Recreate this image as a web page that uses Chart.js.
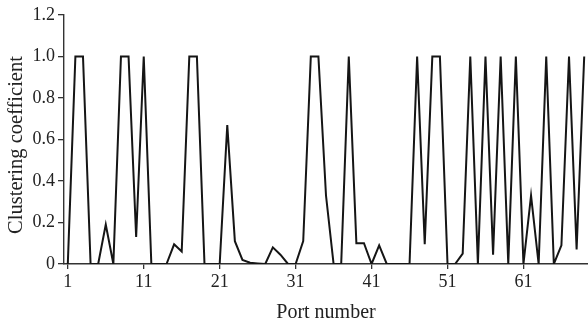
<!DOCTYPE html>
<html><head><meta charset="utf-8">
<script src="https://cdn.jsdelivr.net/npm/chart.js@4"></script>
<style>html,body{margin:0;padding:0;background:#fff}#wrap{width:588px;height:325px}</style>
</head><body><div id="wrap"><canvas id="c" width="588" height="325"></canvas></div>
<script>
const ports = [1,2,3,4,5,6,7,8,9,10,11,12,13,14,15,16,17,18,19,20,21,22,23,24,25,26,27,28,29,30,31,32,33,34,35,36,37,38,39,40,41,42,43,44,45,46,47,48,49,50,51,52,53,54,55,56,57,58,59,60,61,62,63,64,65,66,67,68,69];
const clustering = [0,1,1,0,0,0.19,0,1,1,0.13,1,0,0,0,0.095,0.06,1,1,0,0,0,0.67,0.11,0.02,0.006,0.003,0,0.08,0.045,0,0,0.11,1,1,0.33,0,0,1,0.1,0.1,0,0.09,0,0,0,0,1,0.095,1,1,0,0,0.05,1,0,1,0.045,1,0,1,0,0.33,0,1,0,0.09,1,0.07,1];
const xTickValues = [1,11,21,31,41,51,61];
const yTickValues = [0,0.2,0.4,0.6,0.8,1.0,1.2];
const yTickLabels = ['0','0.2','0.4','0.6','0.8','1.0','1.2'];
const xTitle = 'Port number';
const yTitle = 'Clustering coefficient';

const FONT = 'Liberation Serif, Times New Roman, serif';

const yTitlePlugin = {
  id: 'yTitle',
  afterDraw(chart) {
    const c = chart.ctx;
    c.save();
    c.translate(17, 145);
    c.rotate(-Math.PI / 2);
    c.font = '20.5px ' + FONT;
    c.fillStyle = '#222';
    c.textAlign = 'center';
    c.textBaseline = 'middle';
    c.fillText(yTitle, 0, 0);
    c.restore();
  }
};

const ctx = document.getElementById('c').getContext('2d');
new Chart(ctx, {
  type: 'line',
  data: {
    datasets: [{
      data: ports.map((p, i) => ({x: p, y: clustering[i]})),
      borderColor: '#151515',
      borderWidth: 2,
      pointRadius: 0,
      tension: 0,
      fill: false
    }]
  },
  options: {
    responsive: false,
    animation: false,
    plugins: {legend: {display: false}, tooltip: {enabled: false}},
    layout: {padding: {top: 15, right: 0, left: 0, bottom: 0}},
    scales: {
      x: {
        type: 'linear', min: 0.5, max: 69.5,
        afterBuildTicks: s => { s.ticks = xTickValues.map(v => ({value: v})); },
        afterFit: s => { s.height = 61; },
        ticks: {autoSkip: false, maxRotation: 0, padding: 2, color: '#222',
                font: {family: FONT, size: 18}, callback: v => String(v)},
        grid: {drawOnChartArea: false, drawTicks: true, tickLength: 5, color: '#333', lineWidth: 1.3},
        border: {display: true, color: '#333', width: 1.4},
        title: {display: true, text: xTitle, color: '#222', font: {family: FONT, size: 20},
                padding: {top: 0, bottom: 0}}
      },
      y: {
        min: 0, max: 1.2,
        afterBuildTicks: s => { s.ticks = yTickValues.map(v => ({value: v})); },
        afterFit: s => { s.width = 64; },
        ticks: {autoSkip: false, padding: 3, color: '#222',
                font: {family: FONT, size: 18}, callback: (v, i) => yTickLabels[i]},
        grid: {drawOnChartArea: false, drawTicks: true, tickLength: 6, color: '#333', lineWidth: 1.3},
        border: {display: true, color: '#333', width: 1.4},
        title: {display: false}
      }
    }
  },
  plugins: [yTitlePlugin]
});
</script></body></html>
